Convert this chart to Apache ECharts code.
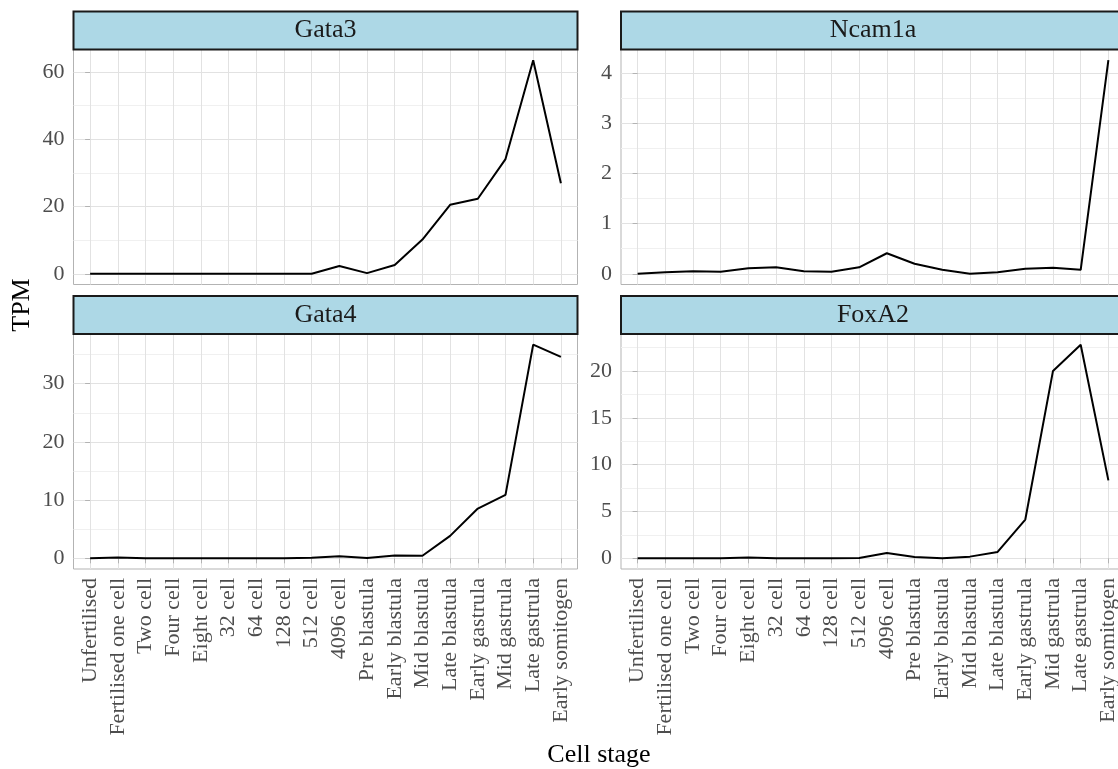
<!DOCTYPE html>
<html>
<head>
<meta charset="utf-8">
<script src="https://cdn.jsdelivr.net/npm/echarts@6/dist/echarts.min.js"></script>
<style>
  html, body { margin: 0; padding: 0; background: #ffffff; }
  #chart { width: 1118px; height: 769px; }
</style>
</head>
<body>
<div id="chart"></div>
<script>
// Developmental stages (x categories, shared by every facet)
const stages = [
  'Unfertilised', 'Fertilised one cell', 'Two cell', 'Four cell', 'Eight cell',
  '32 cell', '64 cell', '128 cell', '512 cell', '4096 cell', 'Pre blastula',
  'Early blastula', 'Mid blastula', 'Late blastula', 'Early gastrula',
  'Mid gastrula', 'Late gastrula', 'Early somitogen'
];

// Expression (TPM) per gene across the stages
const gata3  = [0.05, 0, 0, 0, 0, 0, 0, 0, 0, 2.3, 0.2, 2.6, 10.2, 20.5, 22.3, 34.1, 63.5, 26.9];
const ncam1a = [0, 0.03, 0.05, 0.04, 0.11, 0.13, 0.05, 0.04, 0.13, 0.41, 0.2, 0.08, 0, 0.03, 0.1, 0.12, 0.08, 4.26];
const gata4  = [0, 0.15, 0, 0, 0, 0, 0, 0, 0.1, 0.35, 0.05, 0.5, 0.45, 3.85, 8.55, 10.9, 36.7, 34.6];
const foxa2  = [0, 0, 0, 0, 0.1, 0, 0, 0, 0.03, 0.57, 0.14, 0, 0.18, 0.68, 4.14, 20.0, 22.8, 8.32];

// Y tick labels per facet (free y scales)
const gata3Ticks  = [0, 20, 40, 60];
const ncam1aTicks = [0, 1, 2, 3, 4];
const gata4Ticks  = [0, 10, 20, 30];
const foxa2Ticks  = [0, 5, 10, 15, 20];

const FONT = '"Liberation Serif", "Times New Roman", serif';
const PANEL_W = 504, PANEL_H = 235, STRIP_H = 38;
const COL_LEFT = [73.5, 621];
const ROW_TOP = [49.5, 334];

const panels = [
  { name: 'Gata3',  values: gata3,  ticks: gata3Ticks,  col: 0, row: 0 },
  { name: 'Ncam1a', values: ncam1a, ticks: ncam1aTicks, col: 1, row: 0 },
  { name: 'Gata4',  values: gata4,  ticks: gata4Ticks,  col: 0, row: 1 },
  { name: 'FoxA2',  values: foxa2,  ticks: foxa2Ticks,  col: 1, row: 1 }
];

const stageIdx = stages.map((_, i) => i);

const grids = [], xAxes = [], yAxes = [], series = [], graphics = [];

panels.forEach((p, i) => {
  const left = COL_LEFT[p.col], top = ROW_TOP[p.row];
  const showX = p.row === 1;

  // continuous-scale expansion of 5% on each side
  const dMin = Math.min(...p.values), dMax = Math.max(...p.values);
  const pad = 0.05 * (dMax - dMin);
  const lo = dMin - pad, hi = dMax + pad;

  // minor breaks halfway between the major ones
  const step = p.ticks[1] - p.ticks[0];
  const minors = [];
  for (let k = -1; k <= p.ticks.length; k++) {
    const m = p.ticks[0] + (k + 0.5) * step;
    if (m > lo && m < hi) minors.push(m);
  }

  grids.push({
    left: left, top: top, width: PANEL_W, height: PANEL_H,
    containLabel: false, outerBoundsMode: 'none',
    show: true, backgroundColor: '#ffffff', borderColor: '#b3b3b3', borderWidth: 1
  });

  xAxes.push({
    type: 'value', gridIndex: i,
    min: -0.6, max: stages.length - 1 + 0.6,
    axisLine: { show: false },
    axisTick: { show: showX, length: 5, lineStyle: { color: '#b3b3b3', width: 1 }, customValues: stageIdx },
    axisLabel: {
      show: showX, customValues: stageIdx, rotate: 90, margin: 9,
      formatter: v => stages[Math.round(v)],
      fontFamily: FONT, fontSize: 22, color: '#4d4d4d'
    },
    splitLine: { show: true, lineStyle: { color: '#e2e2e2', width: 1 } },
    z: 1
  });

  // major y axis: labels, ticks, major grid
  yAxes.push({
    type: 'value', gridIndex: i, min: lo, max: hi,
    axisLine: { show: false },
    axisTick: { show: true, length: 5, lineStyle: { color: '#b3b3b3', width: 1 }, customValues: p.ticks },
    axisLabel: { customValues: p.ticks, margin: 9, fontFamily: FONT, fontSize: 22, color: '#4d4d4d' },
    splitLine: { show: true, lineStyle: { color: '#e2e2e2', width: 1 } },
    z: 1
  });
  // minor y grid only
  yAxes.push({
    type: 'value', gridIndex: i, min: lo, max: hi, position: 'left',
    axisLine: { show: false },
    axisTick: { show: false, customValues: minors },
    axisLabel: { show: false, customValues: minors },
    splitLine: { show: true, lineStyle: { color: '#f0f0f0', width: 1 } },
    z: 0
  });

  series.push({
    type: 'line', name: p.name,
    xAxisIndex: i, yAxisIndex: 2 * i,
    data: p.values.map((v, k) => [k, v]),
    symbol: 'none', silent: true,
    lineStyle: { color: '#000000', width: 2 },
    z: 3
  });

  // facet strip
  graphics.push({
    type: 'rect', z: 10,
    shape: { x: left, y: top - STRIP_H, width: PANEL_W, height: STRIP_H },
    style: { fill: '#add8e6', stroke: '#1a1a1a', lineWidth: 2 }
  });
  graphics.push({
    type: 'text', z: 11,
    x: left + PANEL_W / 2, y: top - STRIP_H / 2,
    style: { text: p.name, font: '26px ' + FONT, fill: '#1a1a1a', align: 'center', verticalAlign: 'middle' }
  });
});

// axis titles
graphics.push({
  type: 'text', z: 11, x: 22, y: 305, rotation: Math.PI / 2,
  style: { text: 'TPM', font: '26px ' + FONT, fill: '#000000', align: 'center', verticalAlign: 'middle' }
});
graphics.push({
  type: 'text', z: 11, x: 599, y: 755,
  style: { text: 'Cell stage', font: '26px ' + FONT, fill: '#000000', align: 'center', verticalAlign: 'middle' }
});

const chart = echarts.init(document.getElementById('chart'), null, { renderer: 'canvas' });
chart.setOption({
  animation: false,
  backgroundColor: '#ffffff',
  grid: grids,
  xAxis: xAxes,
  yAxis: yAxes,
  series: series,
  graphic: graphics
});
</script>
</body>
</html>
